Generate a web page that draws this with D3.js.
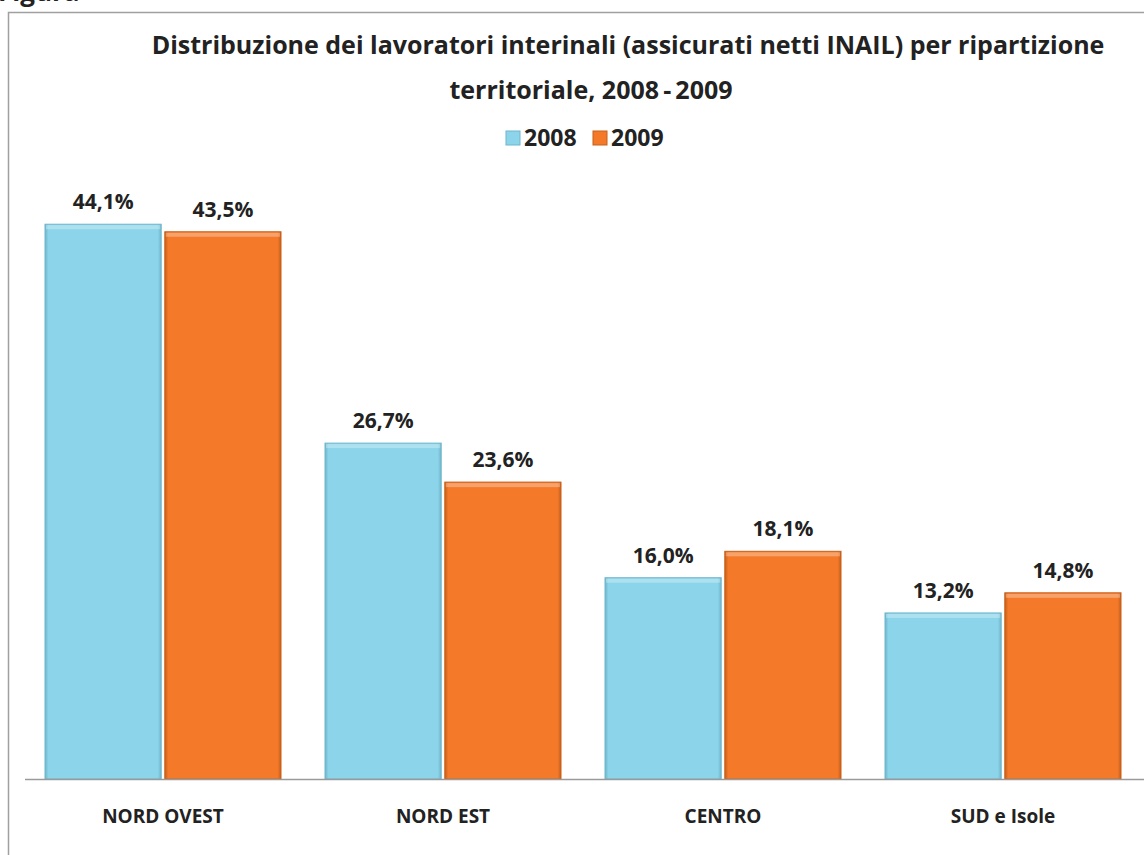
<!DOCTYPE html>
<html>
<head>
<meta charset="utf-8">
<script src="https://cdn.jsdelivr.net/npm/d3@7"></script>
<style>
  body { margin: 0; background: #fff; }
  text { font-family: "Open Sans", "DejaVu Sans", sans-serif; font-weight: bold; fill: #222; }
</style>
</head>
<body>
<div id="chart"></div>
<script>
// Chart data
var categories = ["NORD OVEST", "NORD EST", "CENTRO", "SUD e Isole"];
var seriesNames = ["2008", "2009"];
var values2008 = [44.1, 26.7, 16.0, 13.2];
var values2009 = [43.5, 23.6, 18.1, 14.8];
var titleLines = [
  "Distribuzione dei lavoratori interinali (assicurati netti INAIL) per ripartizione",
  "territoriale, 2008\u2009-\u20092009"
];

var svgWidth = 1144;
var svgHeight = 855;
var colors = { "2008": "#8bd4ea", "2009": "#f47a2a" };
var edges = { "2008": "#6fb6cc", "2009": "#c85e18" };

var svg = d3.select("#chart")
  .append("svg")
  .attr("width", svgWidth)
  .attr("height", svgHeight);

// cut-off caption above the frame
svg.append("text")
  .attr("x", -2)
  .attr("y", 1)
  .style("font-size", "26px")
  .text("Figura");

// frame
svg.append("rect")
  .attr("x", 8.5)
  .attr("y", 12.5)
  .attr("width", 1160)
  .attr("height", 900)
  .attr("fill", "none")
  .attr("stroke", "#a0a0a0")
  .attr("stroke-width", 1.5);

// title
var titleX = [628, 591];
svg.selectAll(".title")
  .data(titleLines)
  .enter()
  .append("text")
  .attr("class", "title")
  .attr("x", (d, i) => titleX[i])
  .attr("y", (d, i) => 54 + i * 45)
  .attr("text-anchor", "middle")
  .style("font-size", "25px")
  .text(d => d);

// scales
var x0 = d3.scaleBand()
  .domain(categories)
  .range([23, 1143]);

var x1 = d3.scaleBand()
  .domain(seriesNames)
  .range([22, 258])
  .paddingInner(0.03);

var y = d3.scaleLinear()
  .domain([0, 50])
  .range([779, 150]);

var rows = categories.map((c, i) => ({
  cat: c,
  vals: [
    { key: "2008", value: values2008[i] },
    { key: "2009", value: values2009[i] }
  ]
}));

// bevel gradients
var defs = svg.append("defs");
seriesNames.forEach(function(s) {
  var g = defs.append("linearGradient")
    .attr("id", "grad" + s)
    .attr("x1", 0).attr("x2", 1).attr("y1", 0).attr("y2", 0);
  g.append("stop").attr("offset", "0%").attr("stop-color", edges[s]);
  g.append("stop").attr("offset", "3%").attr("stop-color", colors[s]);
  g.append("stop").attr("offset", "97%").attr("stop-color", colors[s]);
  g.append("stop").attr("offset", "100%").attr("stop-color", edges[s]);
});

var groups = svg.selectAll(".grp")
  .data(rows)
  .enter()
  .append("g")
  .attr("class", "grp")
  .attr("transform", d => `translate(${x0(d.cat)}, 0)`);

var bars = groups.selectAll("g.bar")
  .data(d => d.vals)
  .enter()
  .append("g")
  .attr("class", "bar");

bars.append("rect")
  .attr("x", d => x1(d.key))
  .attr("y", d => y(d.value))
  .attr("width", x1.bandwidth())
  .attr("height", d => y(0) - y(d.value))
  .attr("fill", d => "url(#grad" + d.key + ")")
  .attr("stroke", d => edges[d.key])
  .attr("stroke-width", 1);

// light top edge
bars.append("rect")
  .attr("x", d => x1(d.key) + 1)
  .attr("y", d => y(d.value) + 1)
  .attr("width", x1.bandwidth() - 2)
  .attr("height", 4)
  .attr("fill", "#ffffff")
  .attr("opacity", 0.3);

bars.append("text")
  .attr("x", d => x1(d.key) + x1.bandwidth() / 2)
  .attr("y", d => y(d.value) - 15)
  .attr("text-anchor", "middle")
  .style("font-size", "21px")
  .text(d => d3.format(".1f")(d.value).replace(".", ",") + "%");

// x axis line
svg.append("line")
  .attr("x1", 25)
  .attr("x2", 1144)
  .attr("y1", 779.5)
  .attr("y2", 779.5)
  .attr("stroke", "#9a9a9a")
  .attr("stroke-width", 1.5);

// category labels
svg.selectAll(".cat")
  .data(categories)
  .enter()
  .append("text")
  .attr("class", "cat")
  .attr("x", d => x0(d) + x0.bandwidth() / 2)
  .attr("y", 823)
  .attr("text-anchor", "middle")
  .style("font-size", "19px")
  .text(d => d);

// legend
var legend = svg.append("g").attr("transform", "translate(506, 146)");
var legendX = [0, 87];
seriesNames.forEach(function(s, i) {
  legend.append("rect")
    .attr("x", legendX[i])
    .attr("y", -15)
    .attr("width", 14)
    .attr("height", 14)
    .attr("fill", colors[s])
    .attr("stroke", edges[s]);
  legend.append("text")
    .attr("x", legendX[i] + 18)
    .attr("y", 0)
    .style("font-size", "23px")
    .text(s);
});
</script>
</body>
</html>
